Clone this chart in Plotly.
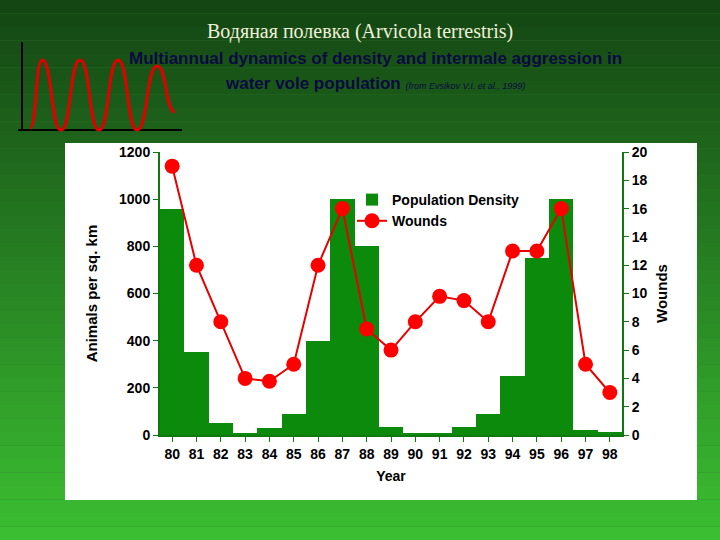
import plotly.graph_objects as go

years = ["80","81","82","83","84","85","86","87","88","89","90","91","92","93","94","95","96","97","98"]
density = [960,350,50,5,30,90,400,1000,800,35,5,5,35,90,250,750,1000,20,12]
wounds = [19,12,8,4,3.8,5,12,16,7.5,6,8,9.8,9.5,8,13,13,16,5,3]

W, H = 720, 540
def px(x): return x / W
def py(y): return 1 - y / H

fig = go.Figure()
fig.add_trace(go.Bar(x=years, y=density, name="Population Density", marker=dict(color="#0b8a0b", line=dict(width=0))))
fig.add_trace(go.Scatter(x=years, y=wounds, name="Wounds", yaxis="y2", mode="lines+markers",
                         line=dict(color="#e60000", width=2), marker=dict(color="#ff0000", size=15)))

shapes = []
n = 40
for i in range(n):
    t = i / (n - 1)
    g0 = (20, 70, 20); g1 = (60, 190, 50)
    c = tuple(int(a + (b - a) * t) for a, b in zip(g0, g1))
    shapes.append(dict(type="rect", xref="paper", yref="paper", x0=0, x1=1,
                       y0=1 - (i + 1) / n, y1=1 - i / n, fillcolor="rgb(%d,%d,%d)" % c,
                       line=dict(width=0), layer="below"))
shapes.append(dict(type="rect", xref="paper", yref="paper", x0=px(65), x1=px(697), y0=py(500), y1=py(143),
                   fillcolor="white", line=dict(width=0), layer="below"))
shapes.append(dict(type="line", xref="paper", yref="paper", x0=px(22), x1=px(22), y0=py(130), y1=py(42), line=dict(color="black", width=2)))
shapes.append(dict(type="line", xref="paper", yref="paper", x0=px(18), x1=px(182), y0=py(130), y1=py(130), line=dict(color="black", width=2)))
pts = [(30, 128), (42, 60), (61, 130), (80, 60), (99, 130), (118, 60), (137, 130), (157, 66), (175, 112)]
d = "M %f,%f" % (px(pts[0][0]), py(pts[0][1]))
for (x0, y0), (x1, y1) in zip(pts[:-1], pts[1:]):
    dx = (x1 - x0) * 0.55
    d += " C %f,%f %f,%f %f,%f" % (px(x0 + dx), py(y0), px(x1 - dx), py(y1), px(x1), py(y1))
shapes.append(dict(type="path", xref="paper", yref="paper", path=d, line=dict(color="#e00000", width=3)))

axcol = "#117711"
tf = dict(family="Arial", size=14, color="black", weight="bold")
fig.update_layout(
    width=W, height=H, margin=dict(l=0, r=0, t=0, b=0, autoexpand=False),
    paper_bgcolor="#2a7a2a", plot_bgcolor="rgba(0,0,0,0)",
    bargap=0, shapes=shapes,
    xaxis=dict(domain=[px(160), px(622)], range=[-0.5, 18.5], tickfont=tf, showgrid=False,
               showline=True, linecolor=axcol, linewidth=2, ticks="outside", tickcolor=axcol,
               title=dict(text="<b>Year</b>", font=dict(family="Arial", size=14, color="black"), standoff=10)),
    yaxis=dict(domain=[py(435), py(152)], range=[0, 1200], dtick=200, tickfont=tf, showgrid=False,
               showline=True, linecolor=axcol, linewidth=2, ticks="outside", tickcolor=axcol,
               title=dict(text="<b>Animals per sq. km</b>", font=dict(family="Arial", size=15, color="black"), standoff=18)),
    yaxis2=dict(overlaying="y", side="right", range=[0, 20], dtick=2, tickfont=tf, showgrid=False,
                showline=True, linecolor=axcol, linewidth=2, ticks="outside", tickcolor=axcol,
                title=dict(text="<b>Wounds</b>", font=dict(family="Arial", size=15, color="black"), standoff=10)),
    legend=dict(x=px(352), y=py(184), xanchor="left", yanchor="top", bgcolor="rgba(0,0,0,0)",
                font=dict(family="Arial", size=14, color="black", weight="bold"), tracegroupgap=0),
    showlegend=True,
    annotations=[
        dict(text="Водяная полевка (Arvicola terrestris)", xref="paper", yref="paper", x=px(360), y=py(18),
             showarrow=False, font=dict(family="Liberation Serif", size=20, color="#f0f0d8")),
        dict(text="<b>Multiannual dynamics of density and intermale aggression in</b>", xref="paper", yref="paper",
             x=px(375), y=py(47), showarrow=False, font=dict(family="Arial", size=17, color="#0a0a40")),
        dict(text="<b>water vole population</b> <i><span style='font-size:9px'>(from Evsikov V.I. et al., 1999)</span></i>",
             xref="paper", yref="paper", x=px(375), y=py(72), showarrow=False,
             font=dict(family="Arial", size=17, color="#0a0a40")),
    ],
)
fig.write_html("out.html", config={"displayModeBar": False},
               post_script="document.body.style.margin='0';document.body.style.overflow='hidden';")
